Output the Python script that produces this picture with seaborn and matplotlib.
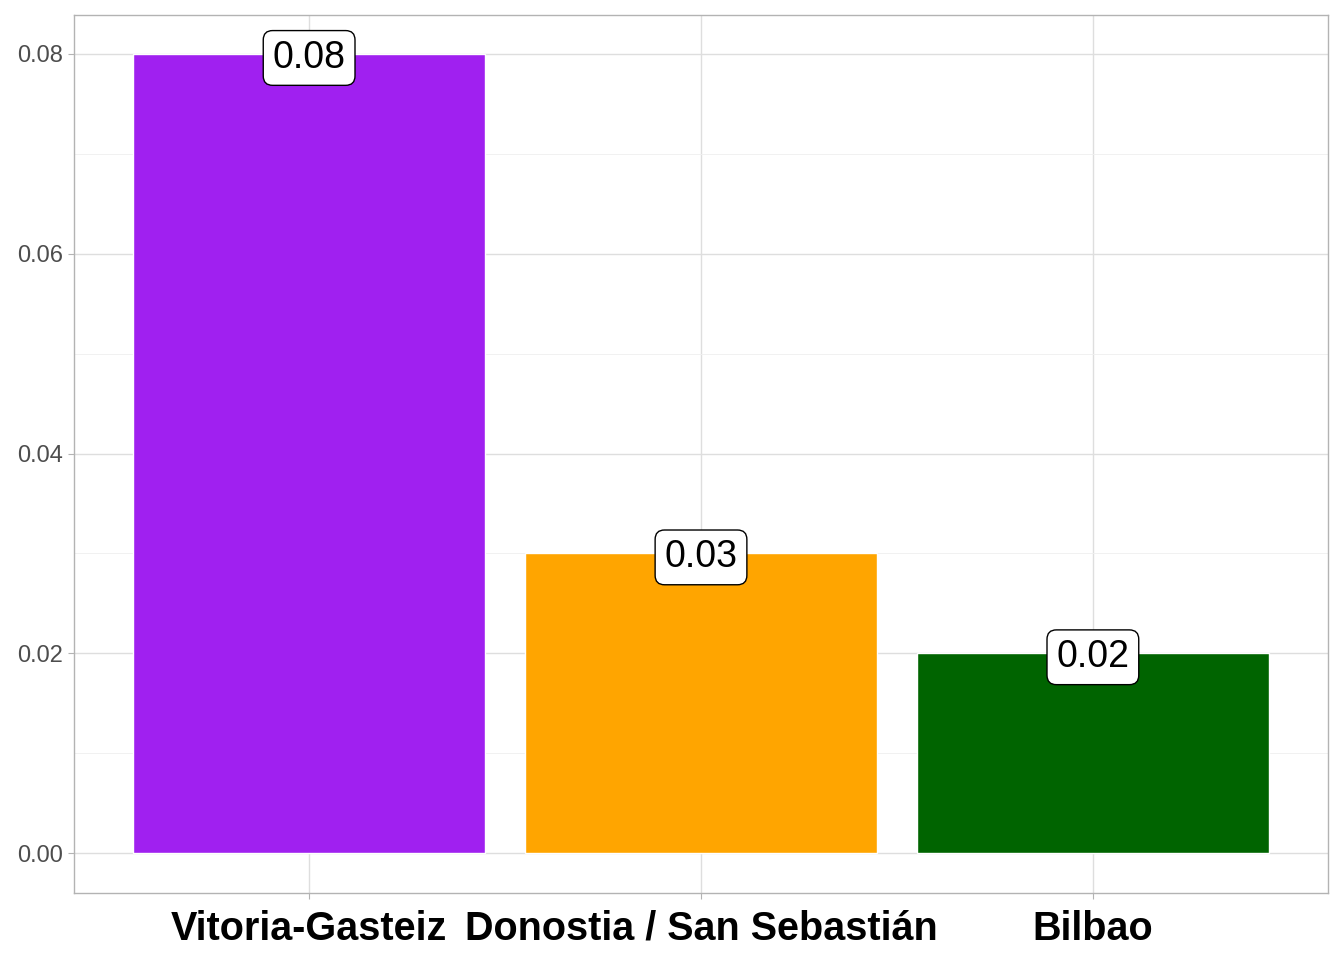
import matplotlib
matplotlib.use("Agg")
import matplotlib.pyplot as plt
import seaborn as sns
import pandas as pd
from matplotlib.ticker import MultipleLocator

ciudades = ["Vitoria-Gasteiz", "Donostia / San Sebastián", "Bilbao"]
valores = [0.08, 0.03, 0.02]
colores = ["#A020F0", "#FFA500", "#006400"]

df = pd.DataFrame({"ciudad": ciudades, "valor": valores})

sns.set_style("white")
plt.rcParams["font.family"] = ["Liberation Sans", "DejaVu Sans"]

fig = plt.figure(figsize=(13.44, 9.6), dpi=100)
ax = fig.add_axes([74 / 1344, 1 - 893 / 960, (1328 - 74) / 1344, (893 - 15) / 960])

sns.barplot(data=df, x="ciudad", y="valor", hue="ciudad", palette=colores,
            width=0.9, legend=False, ax=ax, saturation=1, zorder=2)

# etiquetas con caja blanca
for i, v in enumerate(valores):
    ax.text(i, v, f"{v:.2f}", ha="center", va="center_baseline", fontsize=27, color="black",
            zorder=5,
            bbox=dict(boxstyle="round,pad=0.25,rounding_size=0.25", fc="white", ec="black", lw=1))

ax.set_xlim(-0.6, 2.6)
ax.set_ylim(-0.0040, 0.0839)
ax.yaxis.set_minor_locator(MultipleLocator(0.01))
ax.set_yticks([0, 0.02, 0.04, 0.06, 0.08])
ax.set_yticklabels(["0.00", "0.02", "0.04", "0.06", "0.08"])

ax.grid(which="major", color="#DEDEDE", lw=1, zorder=0)
ax.grid(which="minor", axis="y", color="#EFEFEF", lw=0.6, zorder=0)
ax.set_axisbelow(True)

for s in ax.spines.values():
    s.set_color("#B3B3B3")
    s.set_linewidth(1)

ax.tick_params(axis="y", which="major", length=4, color="#B3B3B3", labelsize=17,
               labelcolor="#4D4D4D", left=True, pad=4)
ax.tick_params(axis="y", which="minor", length=0)
ax.tick_params(axis="x", length=4, color="#B3B3B3", labelsize=28.5, labelcolor="black",
               bottom=True, pad=8)
for lab in ax.get_xticklabels():
    lab.set_fontweight("bold")

ax.set_xlabel("")
ax.set_ylabel("")

fig.savefig("out.png", dpi=100)
